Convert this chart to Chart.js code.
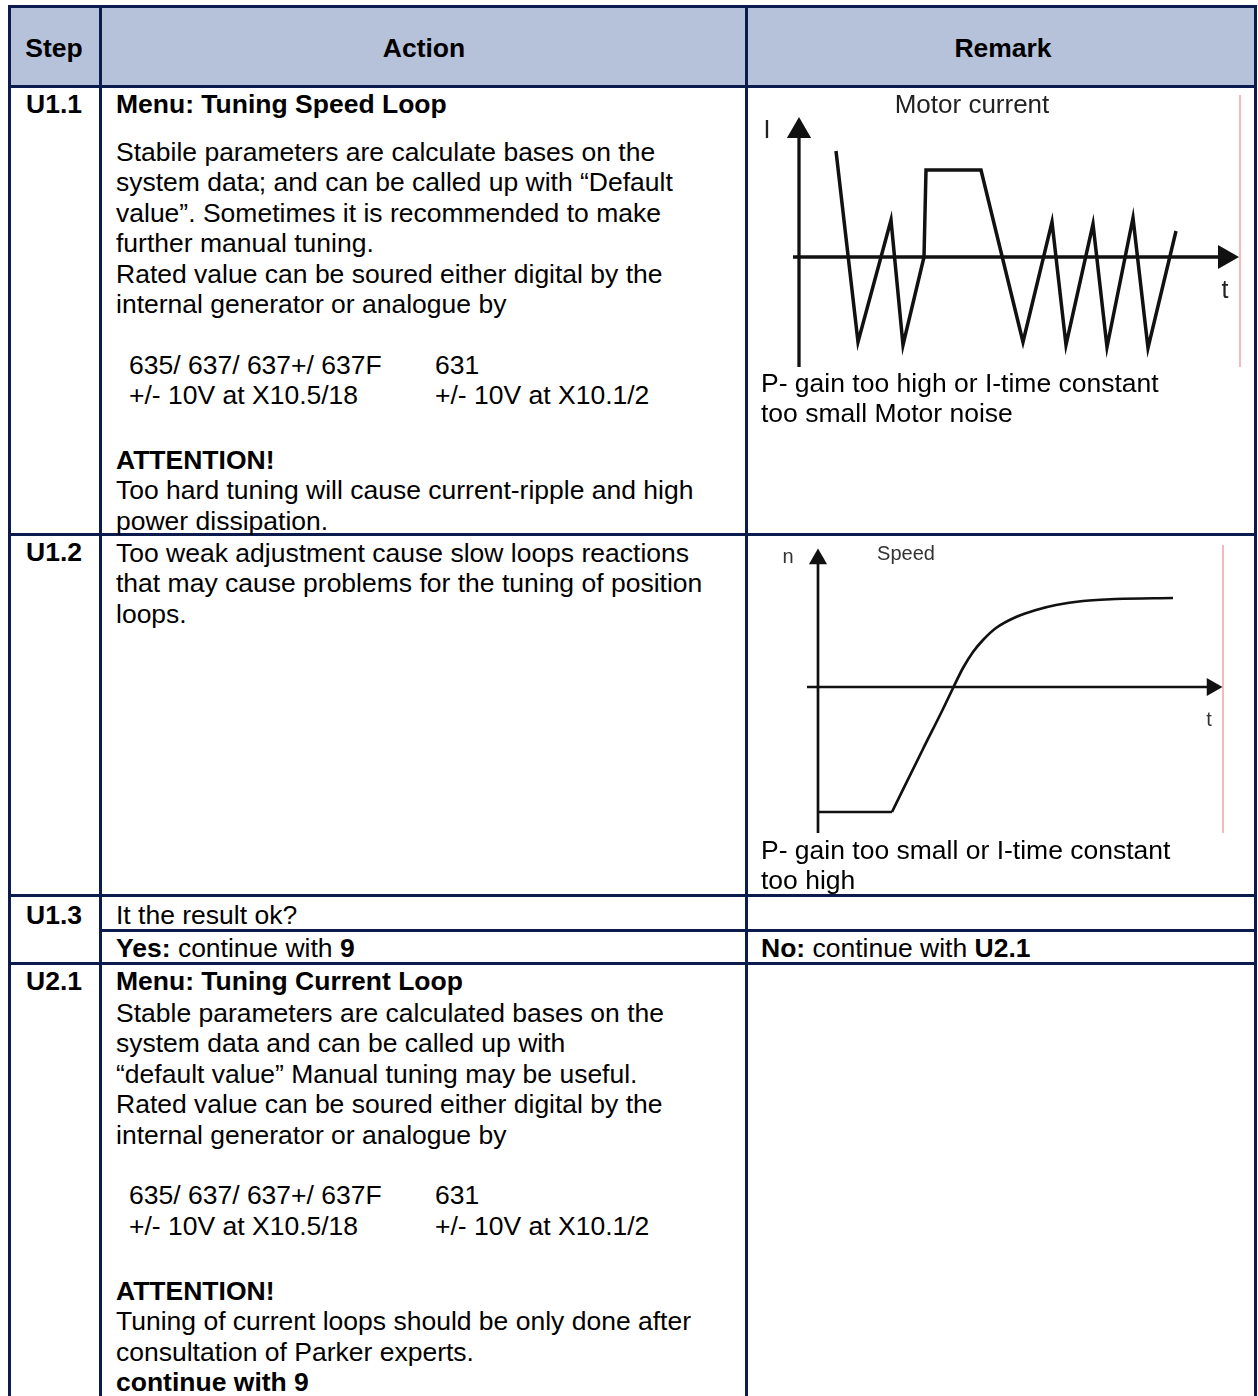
<!DOCTYPE html>
<html lang="en">
<head>
<meta charset="UTF-8">
<title>Tuning Speed Loop</title>
<script src="https://cdn.jsdelivr.net/npm/chart.js"></script>
<style>
  body { margin: 0; background: #fff; font-family: "Liberation Sans", Arial, sans-serif; color: #000; }
  #page { position: relative; width: 1258px; height: 1396px; overflow: hidden; }
  .ln { position: absolute; background: #0c1b4d; }
  .t { position: absolute; font-size: 26.5px; line-height: 30px; white-space: pre; }
  .b { font-weight: bold; }
  .c { transform: translateX(-50%); }
  .lbl { position: absolute; white-space: pre; transform: translate(-50%, -50%); line-height: 1.15; }
  canvas { position: absolute; }
</style>
</head>
<body>
<div id="page">
  <!-- header background -->
  <div style="position:absolute;left:8px;top:5px;width:1249px;height:83px;background:#b6c2da"></div>

  <!-- charts -->
  <canvas id="currentChart" width="490" height="283" style="left:760px;top:89px"></canvas>
  <canvas id="speedChart" width="470" height="300" style="left:765px;top:538px"></canvas>

  <!-- grid lines -->
  <div class="ln" style="left:8px;top:5px;width:1249px;height:3px"></div>
  <div class="ln" style="left:8px;top:85px;width:1249px;height:3px"></div>
  <div class="ln" style="left:8px;top:533px;width:1249px;height:3px"></div>
  <div class="ln" style="left:8px;top:894px;width:1249px;height:3px"></div>
  <div class="ln" style="left:99px;top:929px;width:1158px;height:3px"></div>
  <div class="ln" style="left:8px;top:962px;width:1249px;height:3px"></div>
  <div class="ln" style="left:8px;top:5px;width:3px;height:1391px"></div>
  <div class="ln" style="left:99px;top:5px;width:3px;height:1391px"></div>
  <div class="ln" style="left:745px;top:5px;width:3px;height:1391px"></div>
  <div class="ln" style="left:1254px;top:5px;width:3px;height:1391px"></div>

  <!-- header -->
  <div class="t b c" style="left:54px;top:33px">Step</div>
  <div class="t b c" style="left:424px;top:33px">Action</div>
  <div class="t b c" style="left:1003px;top:33px">Remark</div>

  <!-- step column -->
  <div class="t b c" style="left:54px;top:89px">U1.1</div>
  <div class="t b c" style="left:54px;top:537px">U1.2</div>
  <div class="t b c" style="left:54px;top:900px">U1.3</div>
  <div class="t b c" style="left:54px;top:966px">U2.1</div>

  <!-- U1.1 action -->
  <div class="t b" style="left:116px;top:89px">Menu: Tuning Speed Loop</div>
  <div class="t" style="left:116px;top:137px">Stabile parameters are calculate bases on the</div>
  <div class="t" style="left:116px;top:167.4px">system data; and can be called up with “Default</div>
  <div class="t" style="left:116px;top:197.8px">value”. Sometimes it is recommended to make</div>
  <div class="t" style="left:116px;top:228.2px">further manual tuning.</div>
  <div class="t" style="left:116px;top:258.6px">Rated value can be soured either digital by the</div>
  <div class="t" style="left:116px;top:289px">internal generator or analogue by</div>
  <div class="t" style="left:129px;top:349.8px">635/ 637/ 637+/ 637F</div>
  <div class="t" style="left:435px;top:349.8px">631</div>
  <div class="t" style="left:129px;top:380.2px">+/- 10V at X10.5/18</div>
  <div class="t" style="left:435px;top:380.2px">+/- 10V at X10.1/2</div>
  <div class="t b" style="left:116px;top:445px">ATTENTION!</div>
  <div class="t" style="left:116px;top:475.4px">Too hard tuning will cause current-ripple and high</div>
  <div class="t" style="left:116px;top:505.8px">power dissipation.</div>

  <!-- U1.1 remark -->
  <div class="lbl" style="left:972px;top:105px;font-size:26px;color:#222">Motor current</div>
  <div class="lbl" style="left:767px;top:129px;font-size:25px;color:#222">I</div>
  <div class="lbl" style="left:1225px;top:289px;font-size:25px;color:#222">t</div>
  <div class="t" style="left:761px;top:368px">P- gain too high or I-time constant</div>
  <div class="t" style="left:761px;top:398.4px">too small Motor noise</div>

  <!-- U1.2 action -->
  <div class="t" style="left:116px;top:538px">Too weak adjustment cause slow loops reactions</div>
  <div class="t" style="left:116px;top:568.4px">that may cause problems for the tuning of position</div>
  <div class="t" style="left:116px;top:598.8px">loops.</div>

  <!-- U1.2 remark -->
  <div class="lbl" style="left:906px;top:553px;font-size:20px;color:#333">Speed</div>
  <div class="lbl" style="left:788px;top:556px;font-size:20px;color:#333">n</div>
  <div class="lbl" style="left:1209px;top:719px;font-size:20px;color:#333">t</div>
  <div class="t" style="left:761px;top:835px">P- gain too small or I-time constant</div>
  <div class="t" style="left:761px;top:865.4px">too high</div>

  <!-- U1.3 -->
  <div class="t" style="left:116px;top:900px">It the result ok?</div>
  <div class="t" style="left:116px;top:933px"><b>Yes:</b> continue with <b>9</b></div>
  <div class="t" style="left:761px;top:933px"><b>No:</b> continue with <b>U2.1</b></div>

  <!-- U2.1 action -->
  <div class="t b" style="left:116px;top:966px">Menu: Tuning Current Loop</div>
  <div class="t" style="left:116px;top:998px">Stable parameters are calculated bases on the</div>
  <div class="t" style="left:116px;top:1028.4px">system data and can be called up with</div>
  <div class="t" style="left:116px;top:1058.8px">“default value” Manual tuning may be useful.</div>
  <div class="t" style="left:116px;top:1089.2px">Rated value can be soured either digital by the</div>
  <div class="t" style="left:116px;top:1119.6px">internal generator or analogue by</div>
  <div class="t" style="left:129px;top:1180.4px">635/ 637/ 637+/ 637F</div>
  <div class="t" style="left:435px;top:1180.4px">631</div>
  <div class="t" style="left:129px;top:1210.8px">+/- 10V at X10.5/18</div>
  <div class="t" style="left:435px;top:1210.8px">+/- 10V at X10.1/2</div>
  <div class="t b" style="left:116px;top:1276px">ATTENTION!</div>
  <div class="t" style="left:116px;top:1306.4px">Tuning of current loops should be only done after</div>
  <div class="t" style="left:116px;top:1336.8px">consultation of Parker experts.</div>
  <div class="t b" style="left:116px;top:1367.2px">continue with 9</div>
</div>

<script>
// Motor current, P-gain too high: time and current (arbitrary units, 0 = axis crossing)
const currentTime  = [37, 59, 92, 104, 125, 127, 182, 224, 253, 267, 294, 308, 334, 349, 377];
const currentValue = [106, -85, 37, -88, 0, 87, 87, -85, 35, -88, 33, -90, 39, -91, 26];

// Speed, P-gain too small: time and speed
const speedTime  = [0, 74, 105, 125, 136, 145, 155, 165, 178, 198, 218, 238, 265, 298, 355];
const speedValue = [-125, -125, -62, -22, 1, 19, 35, 47, 59, 70, 77, 82, 86, 88, 89];

// axis extents for each sketch (value axis, time axis, arrow size, right edge marker)
const currentAxes = { yFrom: -110, yTo: 126, xFrom: -6, xTo: 426, arrow: 14, edge: 441, edgeFrom: -110, edgeTo: 162, width: 3.3 };
const speedAxes   = { yFrom: -146, yTo: 128, xFrom: -11, xTo: 394, arrow: 10.5, edge: 405, edgeFrom: -146, edgeTo: 142, width: 2.7 };

function toPoints(xs, ys) {
    return xs.map((x, i) => ({ x: x, y: ys[i] }));
}

// axis drawn as a line with a triangle marker on its last point
function axisDataset(points, size, rotation, width) {
    return {
        data: points,
        showLine: true,
        borderColor: '#111',
        borderWidth: width,
        pointStyle: 'triangle',
        pointRotation: rotation,
        pointRadius: ctx => ctx.dataIndex === points.length - 1 ? size : 0,
        pointBackgroundColor: '#111',
        pointBorderWidth: 0,
        clip: false
    };
}

function sketchAxes(a) {
    return [
        axisDataset([{ x: 0, y: a.yFrom }, { x: 0, y: a.yTo }], a.arrow, 0, a.width),
        axisDataset([{ x: a.xFrom, y: 0 }, { x: a.xTo, y: 0 }], a.arrow, 90, a.width),
        {
            data: [{ x: a.edge, y: a.edgeFrom }, { x: a.edge, y: a.edgeTo }],
            showLine: true, borderColor: '#f4a3a3', borderWidth: 1.5, pointRadius: 0, clip: false
        }
    ];
}

function sketchOptions(xmin, xmax, ymin, ymax) {
    return {
        responsive: false,
        animation: false,
        events: [],
        layout: { padding: 0, autoPadding: false },
        plugins: { legend: { display: false }, tooltip: { enabled: false } },
        scales: {
            x: { type: 'linear', display: false, min: xmin, max: xmax },
            y: { type: 'linear', display: false, min: ymin, max: ymax }
        }
    };
}

new Chart(document.getElementById('currentChart'), {
    type: 'scatter',
    data: {
        datasets: sketchAxes(currentAxes).concat([{
            data: toPoints(currentTime, currentValue),
            showLine: true,
            borderColor: '#111',
            borderWidth: 3.5,
            borderJoinStyle: 'miter',
            pointRadius: 0,
            clip: false
        }])
    },
    options: sketchOptions(-39, 451, -115, 168)
});

new Chart(document.getElementById('speedChart'), {
    type: 'scatter',
    data: {
        datasets: sketchAxes(speedAxes).concat([
            {
                data: toPoints(speedTime.slice(0, 2), speedValue.slice(0, 2)),
                showLine: true, borderColor: '#111', borderWidth: 2.7, pointRadius: 0, clip: false
            },
            {
                data: toPoints(speedTime.slice(1), speedValue.slice(1)),
                showLine: true, borderColor: '#111', borderWidth: 2.7, pointRadius: 0,
                cubicInterpolationMode: 'monotone', clip: false
            }
        ])
    },
    options: sketchOptions(-53, 417, -151, 149)
});
</script>
</body>
</html>
